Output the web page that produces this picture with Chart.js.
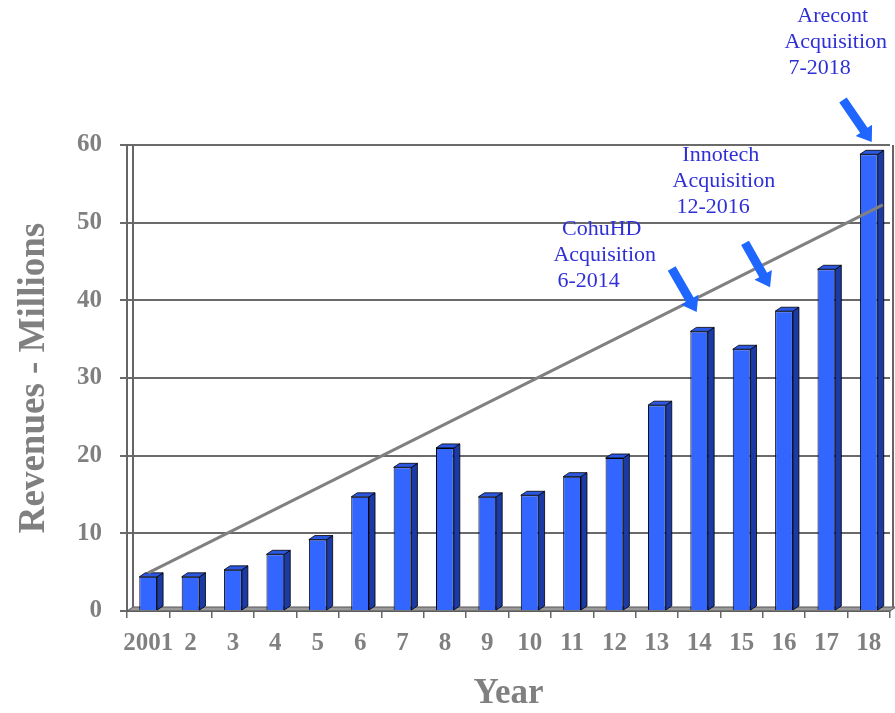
<!DOCTYPE html>
<html>
<head>
    <title>Revenues</title>
    <script src="https://cdn.jsdelivr.net/npm/chart.js"></script>
    <style>
        html, body { margin: 0; padding: 0; background: #fff; }
        #wrap { width: 895px; height: 713px; }
    </style>
</head>
<body>
    <div id="wrap"><canvas id="myChart"></canvas></div>
    <script>
        // Data
        const years = ['2001', '2', '3', '4', '5', '6', '7', '8', '9', '10', '11', '12', '13', '14', '15', '16', '17', '18'];
        const revenues = [4.4, 4.4, 5.3, 7.3, 9.2, 14.7, 18.5, 21.0, 14.7, 14.9, 17.3, 19.7, 26.5, 36.0, 33.7, 38.6, 44.0, 58.8];
        const yTicks = [0, 10, 20, 30, 40, 50, 60];

        // trend line end points (category index, value)
        const trendPoints = [{x: 0, y: 4.9}, {x: 17.33, y: 52.3}];

        // acquisition notes: text, middle line anchor, arrow tail and tip (category index, value)
        const noteLabels = [
            ['CohuHD', 'Acquisition', '6-2014'],
            ['Innotech', 'Acquisition', '12-2016'],
            ['Arecont', 'Acquisition', '7-2018']
        ];
        const noteAnchors = [[10.77, 45.8], [13.58, 55.3], [16.22, 73.2]];
        const arrowTails = [[12.35, 44.1], [14.08, 47.4], [16.39, 65.8]];
        const arrowTips = [[12.94, 38.5], [14.67, 41.7], [17.07, 60.4]];

        const DX = 6, DY = 4;
        const grey = '#808080';
        const serif = "'Liberation Serif', 'Times New Roman', serif";

        function drawArrow(ctx, x1, y1, x2, y2) {
            const ang = Math.atan2(y2 - y1, x2 - x1);
            const len = Math.hypot(x2 - x1, y2 - y1);
            const shaft = 4.5, head = 10, headLen = 14;
            ctx.save();
            ctx.translate(x1, y1);
            ctx.rotate(ang);
            ctx.beginPath();
            ctx.moveTo(0, -shaft);
            ctx.lineTo(len - headLen, -shaft);
            ctx.lineTo(len - headLen, -head);
            ctx.lineTo(len, 0);
            ctx.lineTo(len - headLen, head);
            ctx.lineTo(len - headLen, shaft);
            ctx.lineTo(0, shaft);
            ctx.closePath();
            ctx.fillStyle = '#1f66ff';
            ctx.fill();
            ctx.restore();
        }

        const depthPlugin = {
            id: 'depth3d',
            beforeDatasetsDraw(chart) {
                const {ctx, chartArea: a} = chart;
                ctx.save();
                // floor
                ctx.beginPath();
                ctx.moveTo(a.left, a.bottom);
                ctx.lineTo(a.right, a.bottom);
                ctx.lineTo(a.right + DX, a.bottom - DY);
                ctx.lineTo(a.left + DX, a.bottom - DY);
                ctx.closePath();
                ctx.fillStyle = '#9a9a9a';
                ctx.fill();
                ctx.strokeStyle = '#555';
                ctx.lineWidth = 1;
                ctx.stroke();
                // back wall edge and right border
                ctx.strokeStyle = '#666';
                ctx.lineWidth = 2;
                ctx.beginPath();
                ctx.moveTo(a.left + DX, a.top);
                ctx.lineTo(a.left + DX, a.bottom - DY);
                ctx.moveTo(a.right + 3, a.top);
                ctx.lineTo(a.right + 3, a.bottom - DY);
                ctx.stroke();
                ctx.restore();
            },
            afterDatasetDraw(chart, args) {
                if (args.index !== 0) return;
                const ctx = chart.ctx;
                ctx.save();
                ctx.strokeStyle = '#000';
                ctx.lineWidth = 0.8;
                args.meta.data.forEach(bar => {
                    const {x, y, base, width} = bar.getProps(['x', 'y', 'base', 'width'], true);
                    const l = x - width / 2, r = x + width / 2;
                    // side
                    ctx.beginPath();
                    ctx.moveTo(r, y);
                    ctx.lineTo(r + DX, y - DY);
                    ctx.lineTo(r + DX, base - DY);
                    ctx.lineTo(r, base);
                    ctx.closePath();
                    ctx.fillStyle = '#1b3aa6';
                    ctx.fill();
                    ctx.stroke();
                    // top
                    ctx.beginPath();
                    ctx.moveTo(l, y);
                    ctx.lineTo(l + DX, y - DY);
                    ctx.lineTo(r + DX, y - DY);
                    ctx.lineTo(r, y);
                    ctx.closePath();
                    ctx.fillStyle = '#2c57e0';
                    ctx.fill();
                    ctx.stroke();
                });
                ctx.restore();
            },
            afterDraw(chart) {
                const ctx = chart.ctx;
                const xs = chart.scales.xTrend, ys = chart.scales.y;
                ctx.save();
                ctx.font = '22px ' + serif;
                ctx.fillStyle = '#2f2fd6';
                ctx.textBaseline = 'middle';
                noteLabels.forEach((lines, i) => {
                    const cx = xs.getPixelForValue(noteAnchors[i][0]);
                    const cy = ys.getPixelForValue(noteAnchors[i][1]);
                    const w = ctx.measureText(lines[1]).width;
                    ctx.textAlign = 'center';
                    ctx.fillText(lines[0], cx - 3, cy - 26);
                    ctx.fillText(lines[1], cx, cy);
                    ctx.textAlign = 'left';
                    ctx.fillText(lines[2], cx - w / 2 + 4, cy + 26);
                    drawArrow(ctx,
                        xs.getPixelForValue(arrowTails[i][0]), ys.getPixelForValue(arrowTails[i][1]),
                        xs.getPixelForValue(arrowTips[i][0]), ys.getPixelForValue(arrowTips[i][1]));
                });
                ctx.restore();
            }
        };

        const ctx = document.getElementById('myChart').getContext('2d');
        new Chart(ctx, {
            type: 'bar',
            data: {
                labels: years,
                datasets: [{
                    label: 'Revenues',
                    data: revenues,
                    backgroundColor: '#3366ff',
                    borderColor: '#000',
                    borderWidth: 1,
                    barPercentage: 0.42,
                    categoryPercentage: 1,
                    grouped: false,
                    order: 1
                }, {
                    type: 'line',
                    label: 'Trend',
                    data: trendPoints,
                    xAxisID: 'xTrend',
                    borderColor: grey,
                    borderWidth: 3,
                    pointRadius: 0,
                    fill: false,
                    order: 0
                }]
            },
            options: {
                responsive: true,
                maintainAspectRatio: false,
                animation: false,
                layout: {padding: {top: 145, right: 5, left: 0, bottom: 0}},
                plugins: {legend: {display: false}, tooltip: {enabled: false}},
                scales: {
                    x: {
                        grid: {drawOnChartArea: false, drawTicks: true, tickLength: 7, color: '#666', lineWidth: 1.5},
                        border: {color: '#666', width: 2},
                        ticks: {color: grey, font: {family: serif, size: 25, weight: 'bold'}, padding: 11, maxRotation: 0, autoSkip: false},
                        title: {display: true, text: 'Year', color: grey, font: {family: serif, size: 35, weight: 'bold'}, padding: {top: 0, bottom: -2}},
                        afterFit(scale) { scale.height = 102; }
                    },
                    xTrend: {
                        type: 'linear',
                        display: false,
                        offset: false,
                        bounds: 'data',
                        grid: {offset: false},
                        min: -0.5,
                        max: 17.5
                    },
                    y: {
                        min: 0,
                        max: 60,
                        afterBuildTicks(scale) { scale.ticks = yTicks.map(v => ({value: v})); },
                        grid: {color: '#6a6a6a', lineWidth: 2, tickLength: 7},
                        border: {color: '#666', width: 2},
                        ticks: {color: grey, font: {family: serif, size: 25, weight: 'bold'}, padding: 18},
                        title: {display: true, text: 'Revenues - Millions', color: grey, font: {family: serif, size: 37, weight: 'bold'}, padding: {top: 12, bottom: 0}},
                        afterFit(scale) { scale.width = 127; }
                    }
                }
            },
            plugins: [depthPlugin]
        });
    </script>
</body>
</html>
